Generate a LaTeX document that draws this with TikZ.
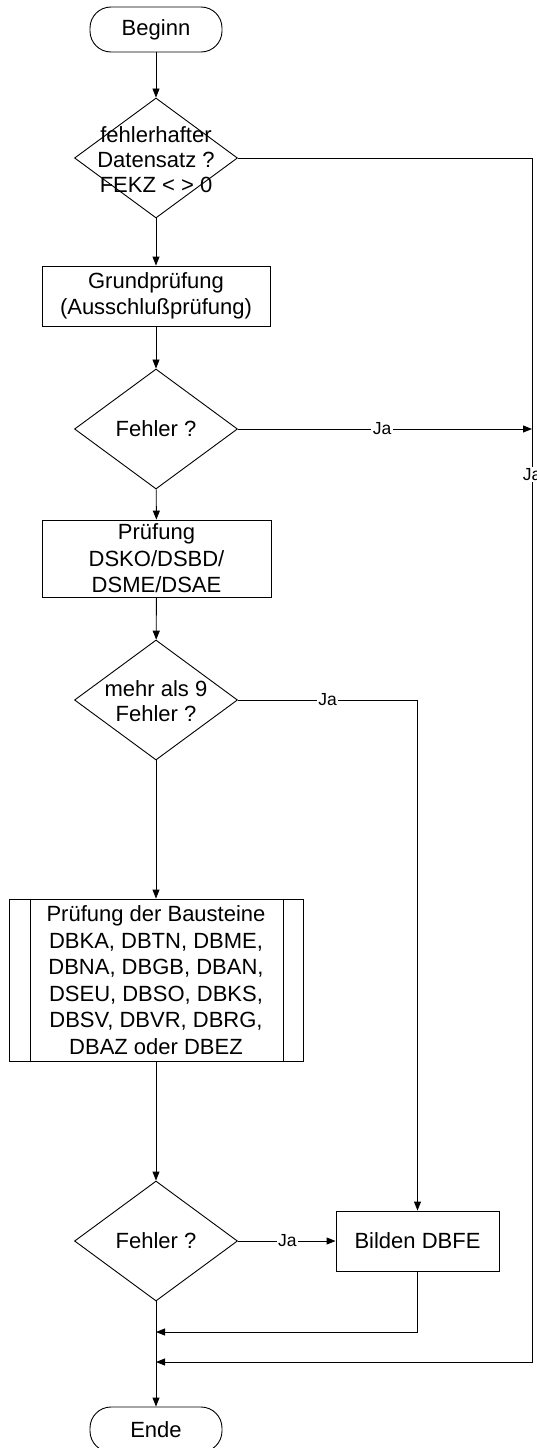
\documentclass[tikz,border=0pt]{standalone}
\usepackage{fontspec}
\setmainfont{Liberation Sans}
\usetikzlibrary{arrows.meta,shapes.geometric}
\begin{document}
\begin{tikzpicture}[x=1pt,y=-1pt,
  line width=0.9pt,
  >={Triangle[length=9pt,width=7pt]},
  term/.style={draw,rounded corners=21pt,minimum width=132pt,minimum height=45pt,inner sep=0pt,font=\fontsize{22}{26.5}\selectfont},
  proc/.style={draw,align=center,inner sep=0pt,font=\fontsize{22}{26.5}\selectfont},
  dec/.style={draw,diamond,minimum width=163pt,minimum height=120pt,inner sep=0pt},
  dtext/.style={align=center,inner sep=0pt,font=\fontsize{22}{25}\selectfont},
  ja/.style={fill=white,inner sep=1.5pt,font=\fontsize{17.5}{19}\selectfont}
]
\useasboundingbox (0,0) rectangle (537,1448);

\node[term] (beg) at (156,29.5) {Beginn};
\node[dec] (d1) at (156,158) {};
\node[dtext] (d1t) at (156,160) {fehlerhafter\\Datensatz ?\\FEKZ < > 0};
\node[proc,minimum width=228pt,minimum height=60pt] (grund) at (156,296) {Grundprüfung\\(Ausschlußprüfung)};
\node[dec] (d2) at (156,429) {};
\node[dtext] (d2t) at (156,429) {Fehler ?};
\node[proc,minimum width=229pt,minimum height=77pt] (pr) at (156.5,558.5) {Prüfung\\DSKO/DSBD/\\DSME/DSAE};
\node[dec] (d3) at (156,700) {};
\node[dtext] (d3t) at (156,701) {mehr als 9\\Fehler ?};
\node[proc,minimum width=294pt,minimum height=162pt] (bau) at (156,980) {Prüfung der Bausteine\\DBKA, DBTN, DBME,\\DBNA, DBGB, DBAN,\\DSEU, DBSO, DBKS,\\DBSV, DBVR, DBRG,\\DBAZ oder DBEZ};
\draw ([xshift=22pt]bau.north west) -- ([xshift=22pt]bau.south west);
\draw ([xshift=-20pt]bau.north east) -- ([xshift=-20pt]bau.south east);
\node[dec] (d4) at (156,1241) {};
\node[dtext] (d4t) at (156,1241) {Fehler ?};
\node[proc,minimum width=163pt,minimum height=60pt] (bil) at (417.5,1241) {Bilden DBFE};
\node[term] (end) at (156,1429.5) {Ende};

\coordinate (r0) at (532,429);
\coordinate (r1) at (532,158);
\coordinate (r2) at (532,1362);
\coordinate (m2) at (156,1362);
\coordinate (c3) at (417.5,700);
\coordinate (b1) at (417.5,1332);
\coordinate (m1) at (156,1332);

\draw[->] (beg) -- (d1);
\draw[->] (d1) -- (grund);
\draw[->] (grund) -- (d2);
\draw[->] (d2) -- (pr);
\draw[->] (pr) -- (d3);
\draw[->] (d3) -- (bau);
\draw[->] (bau) -- (d4);
\draw[->] (d4) -- (end);

\draw[->] (d2.east) -- node[ja,pos=0.49] {Ja} (r0);
\draw[->] (d1.east) -- (r1) -- node[ja,pos=0.263] {Ja} (r2) -- (m2);
\draw[->] (d3.east) -- node[ja,pos=0.5] {Ja} (c3) -- (bil);
\draw[->] (d4.east) -- node[ja,pos=0.505] {Ja} (bil);
\draw[->] (bil) -- (b1) -- (m1);
\end{tikzpicture}
\end{document}
